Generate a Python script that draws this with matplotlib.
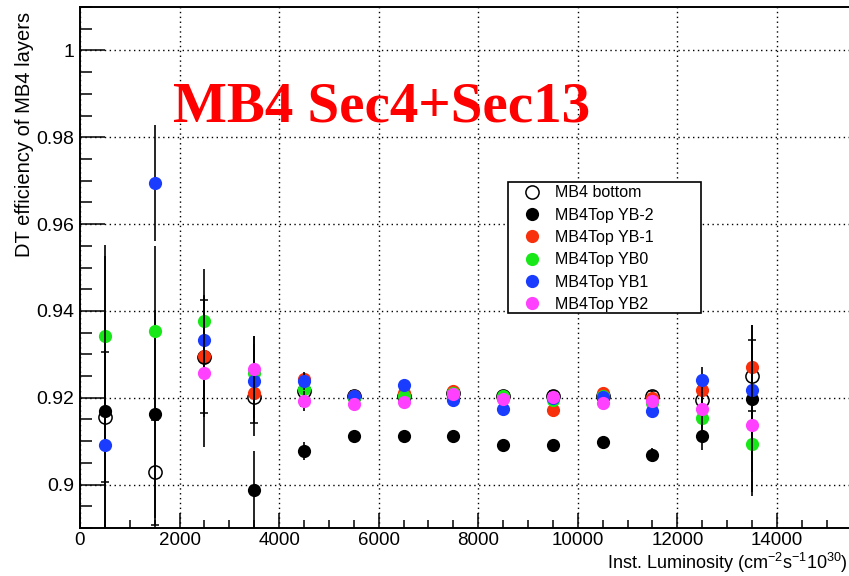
import numpy as np
import matplotlib.pyplot as plt
from matplotlib.lines import Line2D
from matplotlib.patches import Rectangle
from matplotlib.ticker import MultipleLocator

lumi = [500, 1500, 2500, 3500, 4500, 5500, 6500, 7500, 8500, 9500, 10500, 11500, 12500, 13500]
nan = np.nan

mb4_bottom = [0.9156, 0.9028, 0.9295, 0.9201, 0.9215, 0.9205, 0.9205, 0.9210, 0.9203, 0.9205, 0.9205, 0.9205, 0.9195, 0.9251]
mb4_bottom_err = [0.015, 0.012, 0.013, 0.006, 0.0035, 0.001, 0.001, 0.001, 0.001, 0.001, 0.001, 0.001, 0.0035, 0.0082]

yb_m2 = [0.9170, 0.9163, 0.9295, 0.8987, 0.9077, 0.9113, 0.9113, 0.9111, 0.9092, 0.9092, 0.9098, 0.9069, 0.9113, 0.9198]
yb_m2_err = [0.0356, 0.024, 0.014, 0.009, 0.0021, 0.0012, 0.001, 0.0009, 0.0009, 0.0009, 0.0009, 0.0015, 0.0034, 0.017]

yb_m1 = [nan, nan, 0.9297, 0.9211, 0.9243, 0.9203, 0.9211, 0.9215, 0.9200, 0.9172, 0.9212, 0.9199, 0.9218, 0.9270]
yb_m1_err = [0, 0, 0.0128, 0.0099, 0.0015, 0.001, 0.001, 0.001, 0.001, 0.001, 0.001, 0.001, 0.003, 0.0098]

yb_0 = [0.9343, 0.9353, 0.9376, 0.9257, 0.9220, 0.9200, 0.9205, 0.9210, 0.9203, 0.9195, 0.9205, 0.9188, 0.9153, 0.9094]
yb_0_err = [0.021, 0.0196, 0.012, 0.0086, 0.004, 0.001, 0.001, 0.001, 0.001, 0.001, 0.001, 0.001, 0.004, 0.011]

yb_p1 = [0.9092, 0.9695, 0.9333, 0.9238, 0.9238, 0.9203, 0.9230, 0.9195, 0.9174, 0.9200, 0.9201, 0.9169, 0.9241, 0.9218]
yb_p1_err = [0.0306, 0.0133, 0.0104, 0.0085, 0.002, 0.001, 0.001, 0.001, 0.001, 0.001, 0.001, 0.001, 0.003, 0.0115]

yb_p2 = [nan, nan, 0.9257, 0.9267, 0.9192, 0.9185, 0.9190, 0.9209, 0.9197, 0.9201, 0.9189, 0.9193, 0.9174, 0.9138]
yb_p2_err = [0, 0, 0.017, 0.0076, 0.0023, 0.001, 0.001, 0.001, 0.001, 0.001, 0.001, 0.001, 0.004, 0.0165]

labels = ["MB4 bottom", "MB4Top YB-2", "MB4Top YB-1", "MB4Top YB0", "MB4Top YB1", "MB4Top YB2"]
colors = ["black", "black", "#f8300c", "#18e818", "#1a3cff", "#ff40ff"]

plt.rcParams['font.family'] = ['Liberation Sans', 'DejaVu Sans']
plt.rcParams['mathtext.fontset'] = 'custom'
plt.rcParams['mathtext.rm'] = 'Liberation Sans'
plt.rcParams['mathtext.it'] = 'Liberation Sans:italic'

fig = plt.figure(figsize=(8.49, 5.76), dpi=100)
ax = fig.add_axes([0.0942, 0.0833, 1.003 - 0.0942, 0.9045])

series = [(mb4_bottom, mb4_bottom_err), (yb_m2, yb_m2_err), (yb_m1, yb_m1_err),
          (yb_0, yb_0_err), (yb_p1, yb_p1_err), (yb_p2, yb_p2_err)]

handles = []
for i, ((vals, errs), lab, col) in enumerate(zip(series, labels, colors)):
    hollow = (i == 0)
    ax.errorbar(lumi, vals, yerr=errs, fmt='o', ms=9.5,
                mfc='none' if hollow else col, mec=col, mew=1.1 if hollow else 0,
                ecolor='black', elinewidth=1.2, capsize=3, capthick=1.2,
                zorder=3 + i)
    handles.append(Line2D([], [], ls='none', marker='o', ms=9.5,
                          mfc='none' if hollow else col, mec=col,
                          mew=1.1 if hollow else 0))

ax.set_xlim(0, 15500)
ax.set_ylim(0.89, 1.01)
ax.xaxis.set_major_locator(MultipleLocator(2000))
ax.xaxis.set_minor_locator(MultipleLocator(500))
ax.yaxis.set_minor_locator(MultipleLocator(0.005))
ax.set_yticks([0.9, 0.92, 0.94, 0.96, 0.98, 1.0])
ax.set_yticklabels(["0.9", "0.92", "0.94", "0.96", "0.98", "1"])

ax.tick_params(axis='both', which='both', direction='in', labelsize=14, width=1.1)
ax.tick_params(axis='y', which='major', length=18, pad=4)
ax.tick_params(axis='y', which='minor', length=8.5)
ax.tick_params(axis='x', which='major', length=11, pad=3, labelsize=13.5)
ax.tick_params(axis='x', which='minor', length=5.5)
for sp in ax.spines.values():
    sp.set_linewidth(1.4)

ax.grid(True, which='major', color='black', linestyle=(0, (1, 2.5)), linewidth=1.0)
ax.set_axisbelow(True)

fig.text(0.999, 1 / 576, r"Inst. Luminosity (cm$^{-2}$s$^{-1}$10$^{30}$)",
         ha='right', va='bottom', fontsize=13)
fig.text(25 / 849, 1 - 12 / 576, "DT efficiency of MB4 layers",
         rotation=90, ha='center', va='top', fontsize=14.5)

fig.text(173 / 849, 1 - 122 / 576, "MB4 Sec4+Sec13", color='red', fontsize=41,
         fontweight='bold', family=['Liberation Serif', 'DejaVu Serif'], va='baseline')

# legend box like ROOT's TLegend (wider than the entries)
fig.patches.append(Rectangle((508 / 849, 1 - 313 / 576), 193 / 849, 131 / 576,
                             transform=fig.transFigure, facecolor='white',
                             edgecolor='black', linewidth=1.2, zorder=19))
leg = fig.legend(handles, labels, loc='upper left', bbox_to_anchor=(508 / 849, 1 - 182 / 576),
                 fontsize=11.5, frameon=False, handletextpad=0.14, labelspacing=0.46,
                 borderpad=0.2, handlelength=2.6, borderaxespad=0)
leg.set_zorder(20)

fig.savefig("out.png", dpi=100)
